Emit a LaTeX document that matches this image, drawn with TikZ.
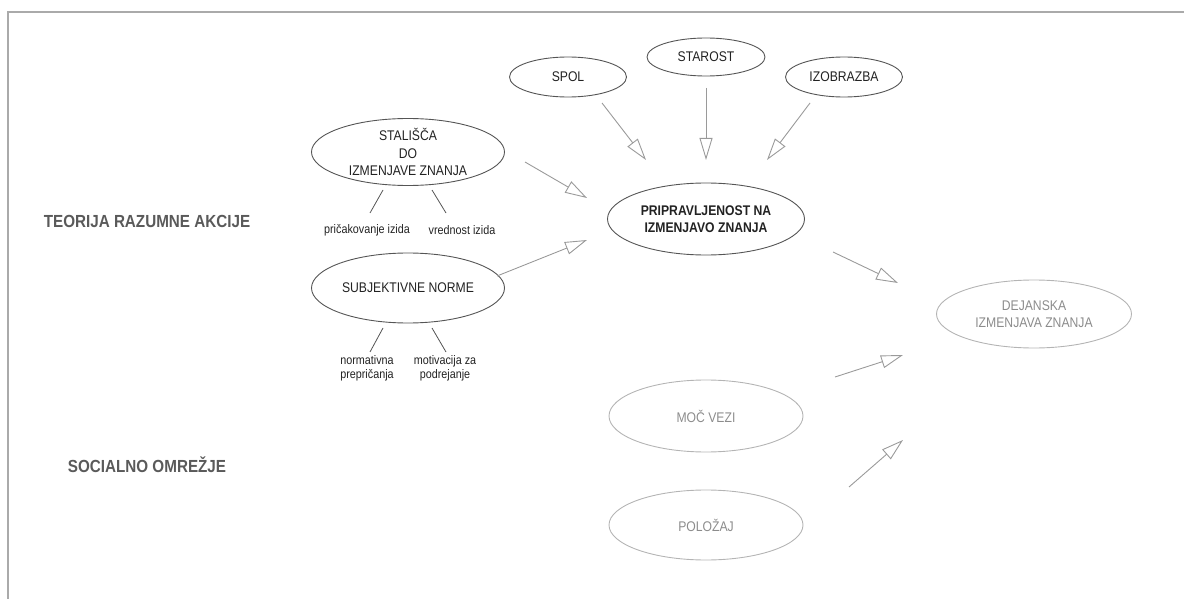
\documentclass[tikz,border=0pt]{standalone}
\usepackage{fontspec}
\setmainfont{Liberation Sans}[FakeStretch=0.87]
\usetikzlibrary{shapes.geometric,arrows.meta}
\definecolor{framegray}{HTML}{AAAAAA}
\definecolor{inkdark}{HTML}{222222}
\definecolor{edgedark}{HTML}{555555}
\definecolor{paleedge}{HTML}{B4B4B4}
\definecolor{paletext}{HTML}{8C8C8C}
\definecolor{arrowgray}{HTML}{9A9A9A}
\definecolor{labelgray}{HTML}{5A5A5A}
\tikzset{
  oval/.style={ellipse, draw=edgedark, line width=0.9pt, inner sep=0pt,
    text=inkdark, align=center, font=\fontsize{14}{17.5}\selectfont},
  paleoval/.style={oval, draw=paleedge, text=paletext},
  smalltext/.style={text=inkdark, align=center, inner sep=0pt,
    font=\fontsize{12.4}{14}\selectfont},
  grouplabel/.style={text=labelgray, inner sep=0pt,
    font=\fontsize{17.5}{20}\selectfont\bfseries},
  flow/.style={draw=arrowgray, line width=0.9pt,
    -{Triangle[open, length=22pt, width=13pt]}},
  tie/.style={draw=edgedark, line width=0.8pt},
}
\begin{document}
\begin{tikzpicture}[x=1pt, y=-1pt]
  \useasboundingbox (0,0) rectangle (1184,599);
  % frame
  \draw[framegray, line width=1.6pt] (1184,12) -- (8,12) -- (8,599);

  % group labels
  \node[grouplabel] (tra) at (147,221) {TEORIJA RAZUMNE AKCIJE};
  \node[grouplabel] (som) at (147,465) {SOCIALNO OMREŽJE};

  % theory of reasoned action
  \node[oval, minimum width=193pt, minimum height=65pt] (stal) at (408,152)
    {STALIŠČA\\DO\\IZMENJAVE ZNANJA};
  \node[oval, minimum width=193pt, minimum height=70pt] (subj) at (408,288)
    {SUBJEKTIVNE NORME};
  \node[smalltext] (pric) at (367,230) {pričakovanje izida};
  \node[smalltext] (vred) at (462,230) {vrednost izida};
  \node[smalltext] (norm) at (367,368) {normativna\\prepričanja};
  \node[smalltext] (moti) at (445,368) {motivacija za\\podrejanje};

  % demographic factors
  \node[oval, minimum width=117pt, minimum height=40pt] (spol) at (568,77) {SPOL};
  \node[oval, minimum width=118pt, minimum height=38pt] (star) at (706,57) {STAROST};
  \node[oval, minimum width=117pt, minimum height=40pt] (izob) at (844,77) {IZOBRAZBA};

  % central construct
  \node[oval, minimum width=197pt, minimum height=72pt,
        font=\fontsize{14}{17.5}\selectfont\bfseries] (prip) at (706,219)
    {PRIPRAVLJENOST NA\\IZMENJAVO ZNANJA};

  % outcome and social network
  \node[paleoval, minimum width=195pt, minimum height=68pt] (dej) at (1034,314)
    {DEJANSKA\\IZMENJAVA ZNANJA};
  \node[paleoval, minimum width=194pt, minimum height=72pt] (moc) at (706,416)
    {MOČ VEZI};
  \node[paleoval, minimum width=194pt, minimum height=70pt] (pol) at (706,525)
    {POLOŽAJ};

  % arrow end points
  \coordinate (a1s) at (525,162); \coordinate (a1e) at (587,198);
  \coordinate (a2s) at (497,276); \coordinate (a2e) at (587,240);
  \coordinate (a3s) at (602,103); \coordinate (a3e) at (646,160);
  \coordinate (a4s) at (706,88);  \coordinate (a4e) at (706,160);
  \coordinate (a5s) at (810,103); \coordinate (a5e) at (767,160);
  \coordinate (a6s) at (833,252); \coordinate (a6e) at (898,283);
  \coordinate (a7s) at (835,377); \coordinate (a7e) at (903,355);
  \coordinate (a8s) at (849,487); \coordinate (a8e) at (903,440);

  \draw[flow] (a1s) -- (a1e);
  \draw[flow] (a2s) -- (a2e);
  \draw[flow] (a3s) -- (a3e);
  \draw[flow] (a4s) -- (a4e);
  \draw[flow] (a5s) -- (a5e);
  \draw[flow] (a6s) -- (a6e);
  \draw[flow] (a7s) -- (a7e);
  \draw[flow] (a8s) -- (a8e);

  % ties from constructs to their components
  \coordinate (t1s) at (383,190); \coordinate (t1e) at (370,213);
  \coordinate (t2s) at (432,190); \coordinate (t2e) at (446,213);
  \coordinate (t3s) at (383,328); \coordinate (t3e) at (370,352);
  \coordinate (t4s) at (432,328); \coordinate (t4e) at (446,352);
  \draw[tie] (t1s) -- (t1e);
  \draw[tie] (t2s) -- (t2e);
  \draw[tie] (t3s) -- (t3e);
  \draw[tie] (t4s) -- (t4e);
\end{tikzpicture}
\end{document}
